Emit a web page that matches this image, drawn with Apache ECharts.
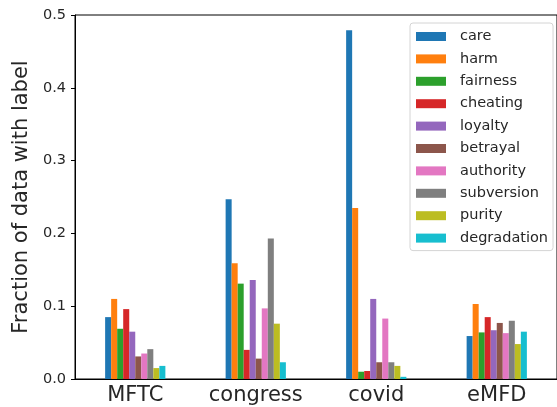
<!DOCTYPE html>
<html>
<head>
<meta charset="utf-8">
<script src="https://cdn.jsdelivr.net/npm/echarts@6/dist/echarts.min.js"></script>
<style>
  html, body { margin: 0; padding: 0; background: #fff; }
  #chart { width: 557px; height: 407px; }
</style>
</head>
<body>
<div id="chart"></div>
<script>
// Datasets along the x axis
const datasets = ['MFTC', 'congress', 'covid', 'eMFD'];

// Moral foundation labels (one bar series each)
const labels = ['care', 'harm', 'fairness', 'cheating', 'loyalty',
                'betrayal', 'authority', 'subversion', 'purity', 'degradation'];

// Fraction of data carrying each label, per dataset (MFTC, congress, covid, eMFD)
const care        = [0.085, 0.247, 0.479, 0.059];
const harm        = [0.110, 0.159, 0.235, 0.103];
const fairness    = [0.069, 0.131, 0.010, 0.064];
const cheating    = [0.096, 0.040, 0.011, 0.085];
const loyalty     = [0.065, 0.136, 0.110, 0.067];
const betrayal    = [0.031, 0.028, 0.023, 0.077];
const authority   = [0.035, 0.097, 0.083, 0.063];
const subversion  = [0.041, 0.193, 0.023, 0.080];
const purity      = [0.015, 0.076, 0.018, 0.048];
const degradation = [0.018, 0.023, 0.003, 0.065];

const yTicks = [0.0, 0.1, 0.2, 0.3, 0.4, 0.5];

const values = [care, harm, fairness, cheating, loyalty,
                betrayal, authority, subversion, purity, degradation];

const colors = ['#1f77b4', '#ff7f0e', '#2ca02c', '#d62728', '#9467bd',
                '#8c564b', '#e377c2', '#7f7f7f', '#bcbd22', '#17becf'];

const font = 'DejaVu Sans';
const ink = '#262626';

const chart = echarts.init(document.getElementById('chart'), null, { renderer: 'canvas' });

chart.setOption({
  animation: false,
  color: colors,
  textStyle: { fontFamily: font },
  grid: {
    left: 75, top: 15, bottom: 28, right: -6,
    show: true, borderColor: '#000', borderWidth: 1, backgroundColor: 'transparent'
  },
  legend: {
    data: labels,
    orient: 'vertical',
    left: 410, top: 23,
    icon: 'rect',
    itemWidth: 30, itemHeight: 9,
    itemGap: 7.4,
    padding: [6, 5, 5, 6],
    backgroundColor: 'rgba(255,255,255,0.8)',
    borderColor: '#d4d4d4', borderWidth: 1, borderRadius: 3,
    textStyle: { fontFamily: font, fontSize: 14.5, color: ink, lineHeight: 15, padding: [0, 0, 0, 9] }
  },
  xAxis: {
    type: 'category',
    data: datasets,
    axisLine: { lineStyle: { color: '#000', width: 1 } },
    axisTick: { alignWithLabel: true, interval: 0, length: 4, lineStyle: { color: '#000' } },
    axisLabel: { interval: 0, fontFamily: font, fontSize: 21, color: ink, margin: 6 }
  },
  yAxis: {
    type: 'value',
    min: yTicks[0], max: yTicks[yTicks.length - 1], interval: 0.1,
    name: 'Fraction of data with label',
    nameLocation: 'middle',
    nameGap: 32,
    nameTextStyle: { fontFamily: font, fontSize: 21, color: ink },
    axisLine: { show: true, lineStyle: { color: '#000', width: 1 } },
    axisTick: { show: true, length: 4, lineStyle: { color: '#000' } },
    splitLine: { show: false },
    axisLabel: {
      fontFamily: font, fontSize: 14.5, color: ink, margin: 9,
      formatter: v => v.toFixed(1)
    }
  },
  // Ten touching bars per dataset, the group filling half of each band
  series: labels.map((name, i) => ({
    name: name,
    type: 'bar',
    data: values[i],
    barWidth: '5%',
    barGap: '0%'
  }))
});
</script>
</body>
</html>
